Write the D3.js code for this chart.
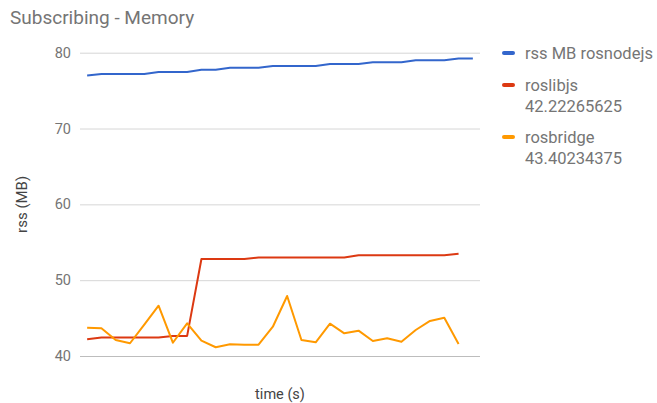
<!DOCTYPE html>
<html>
<head>
<meta charset="utf-8">
<script src="https://cdn.jsdelivr.net/npm/d3@7"></script>
<style>
  html, body { margin: 0; padding: 0; background: #fff; }
  svg { display: block; font-family: Roboto, "Noto Sans", sans-serif; }
</style>
</head>
<body>
<svg id="chart" width="657" height="403"></svg>
<script>
// Sample index along the time axis (28 samples)
const samples = d3.range(28);

// rss in MB per sample
const rosnodejs = [77.0, 77.2, 77.2, 77.2, 77.2, 77.45, 77.45, 77.45, 77.75, 77.75,
  78.0, 78.0, 78.0, 78.25, 78.25, 78.25, 78.25, 78.5, 78.5, 78.5,
  78.75, 78.75, 78.75, 79.0, 79.0, 79.0, 79.25, 79.25];
const roslibjs = [42.22, 42.45, 42.45, 42.45, 42.45, 42.45, 42.65, 42.65, 52.8, 52.8,
  52.8, 52.8, 53.0, 53.0, 53.0, 53.0, 53.0, 53.0, 53.0, 53.3,
  53.3, 53.3, 53.3, 53.3, 53.3, 53.3, 53.5, null];
const rosbridge = [43.73, 43.65, 42.11, 41.68, 44.15, 46.63, 41.75, 44.31, 42.02, 41.15,
  41.54, 41.49, 41.49, 43.86, 47.91, 42.11, 41.81, 44.26, 42.99, 43.34,
  41.98, 42.33, 41.89, 43.43, 44.62, 45.05, 41.58, null];

const legendLines = [["rss MB rosnodejs"], ["roslibjs", "42.22265625"], ["rosbridge", "43.40234375"]];
const seriesColors = ["#3366cc", "#dc3912", "#ff9900"];
const yTicks = [40, 50, 60, 70, 80];

const series = [rosnodejs, roslibjs, rosbridge];

const svg = d3.select("#chart");
const plot = { left: 80, right: 480, top: 52.7, bottom: 356 };

const x = d3.scalePoint().domain(samples).range([plot.left, plot.right]).padding(0.5);
const y = d3.scaleLinear().domain([40, 80]).range([plot.bottom, plot.top]);

// Title
svg.append("text")
  .attr("x", 10).attr("y", 24)
  .attr("fill", "#757575")
  .attr("font-size", 19)
  .text("Subscribing - Memory");

// Horizontal gridlines and y tick labels
const yAxis = d3.axisLeft(y).tickValues(yTicks).tickSize(-(plot.right - plot.left)).tickPadding(9);
const gy = svg.append("g").attr("transform", `translate(${plot.left},0)`).call(yAxis);
gy.select(".domain").remove();
gy.selectAll(".tick line").attr("stroke", d => d === 40 ? "#bdbdbd" : "#d6d6d6").attr("stroke-width", 1);
gy.selectAll(".tick text")
  .attr("fill", "#757575")
  .attr("font-size", 14.5)
  .attr("font-family", "Roboto, sans-serif");

// Axis titles
svg.append("text")
  .attr("transform", `translate(27,${(plot.top + plot.bottom) / 2}) rotate(-90)`)
  .attr("text-anchor", "middle")
  .attr("fill", "#444")
  .attr("font-size", 15)
  .text("rss (MB)");

svg.append("text")
  .attr("x", (plot.left + plot.right) / 2).attr("y", 399)
  .attr("text-anchor", "middle")
  .attr("fill", "#444")
  .attr("font-size", 14.5)
  .text("time (s)");

// Lines
const line = d3.line()
  .defined(d => d.v != null)
  .x(d => x(d.i))
  .y(d => y(d.v));

series.forEach((vals, k) => {
  svg.append("path")
    .datum(vals.map((v, i) => ({ i: samples[i], v })))
    .attr("fill", "none")
    .attr("stroke", seriesColors[k])
    .attr("stroke-width", 2)
    .attr("stroke-linejoin", "round")
    .attr("d", line);
});

// Legend
const legendY = [53, 85, 137];
const legend = svg.append("g");
legendLines.forEach((lines, k) => {
  const g = legend.append("g").attr("transform", `translate(504,${legendY[k]})`);
  g.append("line")
    .attr("x1", 0).attr("x2", 9).attr("y1", 0).attr("y2", 0)
    .attr("stroke", seriesColors[k])
    .attr("stroke-width", 4)
    .attr("stroke-linecap", "round");
  lines.forEach((t, j) => {
    g.append("text")
      .attr("x", 21).attr("y", 6 + j * 21)
      .attr("fill", "#757575")
      .attr("font-size", 16.5)
      .text(t);
  });
});
</script>
</body>
</html>
